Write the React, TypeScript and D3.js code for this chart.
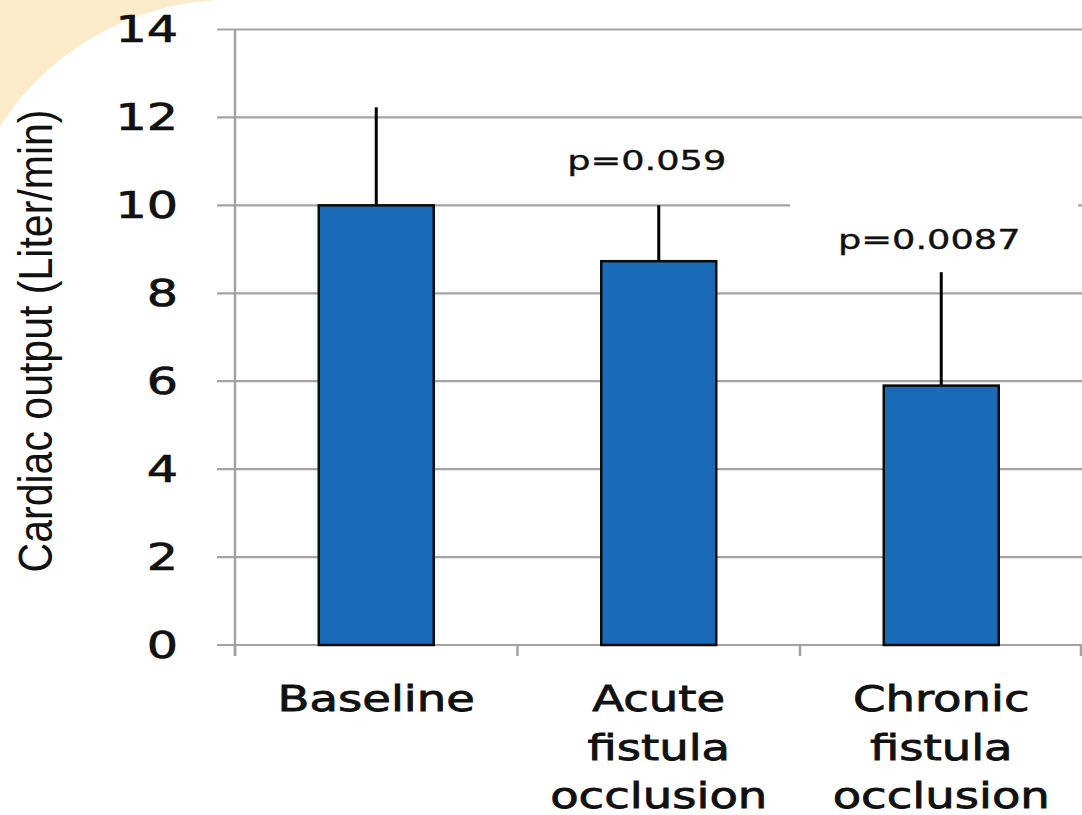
import React from "react";
import * as d3 from "d3";

const categories = ["Baseline", "Acute fistula occlusion", "Chronic fistula occlusion"];
const categoryLines = [["Baseline"], ["Acute", "fistula", "occlusion"], ["Chronic", "fistula", "occlusion"]];
const means = [10.0, 8.73, 5.9];
const errorTops = [12.23, 10.0, 8.48];
const pLabels = ["", "p=0.059", "p=0.0087"];
const pLabelValues = [0, 10.8, 9.0];
const yTicks = [0, 2, 4, 6, 8, 10, 12, 14];

const W = 1082;
const H = 815;

export default function App() {
  const y = d3.scaleLinear().domain([0, 14]).range([645, 29.5]);
  const x = d3.scaleBand().domain(categories).range([235, 1082.5]).padding(0);
  const bw = x.bandwidth() * 0.407;
  const sx = 1.33;
  const axisColor = "#a3a3a3";
  const textFont = "'DejaVu Sans', Verdana, sans-serif";
  const R = 277;
  const whitePath = `M 0 126 A ${R} ${R} 0 0 1 248.6 0 L ${W + 5} 0 L ${W + 5} ${H + 5} L 0 ${H + 5} Z`;

  return (
    <svg
      width={W}
      height={H}
      style={{ position: "absolute", left: 0, top: 0, display: "block" }}
    >
      <rect x={0} y={0} width={W} height={H} fill="#fcebcb" />
      <path d={whitePath} fill="#ffffff" />

      {/* gridlines */}
      {yTicks.map((t) => (
        <line
          key={"g" + t}
          x1={217}
          x2={W}
          y1={y(t)}
          y2={y(t)}
          stroke={axisColor}
          strokeWidth={2.2}
        />
      ))}
      {/* text box masking part of the gridline */}
      <rect x={790} y={198} width={288} height={62} fill="#ffffff" />

      {/* y axis */}
      <line x1={235} x2={235} y1={y(14)} y2={y(0) + 11} stroke={axisColor} strokeWidth={2.5} />
      {/* x axis ticks */}
      {[...categories.map((c) => x(c) as number), 1081].map((px, i) => (
        <line key={"xt" + i} x1={px} x2={px} y1={y(0)} y2={y(0) + 11} stroke={axisColor} strokeWidth={2.5} />
      ))}

      {/* bars */}
      {categories.map((c, i) => {
        const cx = (x(c) as number) + x.bandwidth() / 2;
        return (
          <g key={c}>
            <line
              x1={cx}
              x2={cx}
              y1={y(means[i])}
              y2={y(errorTops[i])}
              stroke="#000"
              strokeWidth={3}
            />
            <rect
              x={cx - bw / 2}
              y={y(means[i])}
              width={bw}
              height={y(0) - y(means[i])}
              fill="#196bb8"
              stroke="#0a0a0a"
              strokeWidth={2.5}
            />
          </g>
        );
      })}

      {/* y tick labels */}
      {yTicks.map((t) => (
        <text
          key={"yl" + t}
          transform={`translate(178,${y(t) + 12.5}) scale(${sx},1)`}
          textAnchor="end"
          fontFamily={textFont}
          fontSize={37}
          fill="#111"
          stroke="#111"
          strokeWidth={0.7}
        >
          {t}
        </text>
      ))}

      {/* x category labels */}
      {categories.map((c, i) => {
        const cx = (x(c) as number) + x.bandwidth() / 2;
        return categoryLines[i].map((ln, j) => (
          <text
            key={c + j}
            transform={`translate(${cx},${711 + j * 48.5}) scale(${sx},1)`}
            textAnchor="middle"
            fontFamily={textFont}
            fontSize={35}
            fill="#111"
            stroke="#111"
            strokeWidth={0.8}
          >
            {ln}
          </text>
        ));
      })}

      {/* p-value labels */}
      {categories.map((c, i) =>
        pLabels[i] ? (
          <text
            key={"p" + i}
            transform={`translate(${(x(c) as number) + x.bandwidth() / 2 - 12},${y(pLabelValues[i])}) scale(1.36,1)`}
            textAnchor="middle"
            fontFamily={textFont}
            fontSize={27}
            fill="#111"
            stroke="#111"
            strokeWidth={0.4}
          >
            {pLabels[i]}
          </text>
        ) : null
      )}

      {/* y axis title */}
      <text
        transform="translate(52,341) rotate(-90)"
        textAnchor="middle"
        fontFamily="'Liberation Sans', Arial, sans-serif"
        fontSize={48}
        textLength={463}
        lengthAdjust="spacingAndGlyphs"
        fill="#111"
      >
        Cardiac output (Liter/min)
      </text>
    </svg>
  );
}
